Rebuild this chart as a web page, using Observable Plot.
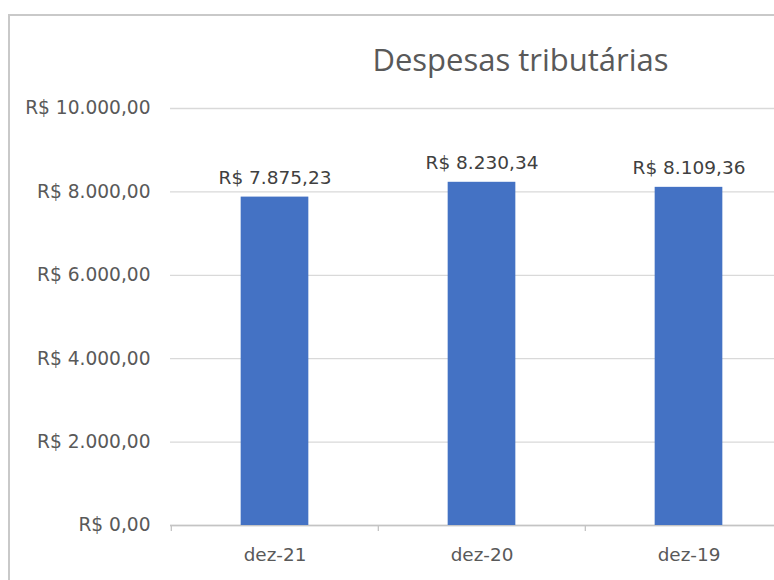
<!DOCTYPE html>
<html>
<head>
<meta charset="utf-8">
<script src="https://cdn.jsdelivr.net/npm/d3@7"></script>
<script src="https://cdn.jsdelivr.net/npm/@observablehq/plot@0.6"></script>
<style>
  html, body { margin: 0; padding: 0; background: #fff; width: 774px; height: 580px; overflow: hidden; }
  #wrap { position: relative; width: 774px; height: 580px; }
  #frame { position: absolute; left: 8px; top: 14px; width: 800px; height: 600px;
           border-left: 2px solid #c9c9c9; border-top: 2px solid #c9c9c9; box-sizing: border-box; }
  #title { position: absolute; left: 0; top: 44px; width: 1041px; text-align: center; line-height: 1;
           font-family: "Open Sans", sans-serif; font-size: 31px; color: #595959; white-space: nowrap; }
  #chart { position: absolute; left: 0; top: 0; }
</style>
</head>
<body>
<div id="wrap">
  <div id="frame"></div>
  <div id="chart"></div>
  <div id="title">Despesas tributárias</div>
</div>
<script>
const title = "Despesas tributárias";
const categories = ["dez-21", "dez-20", "dez-19"];
const values = [7875.23, 8230.34, 8109.36];
const yTicks = [0, 2000, 4000, 6000, 8000, 10000];

const data = categories.map((c, i) => ({category: c, value: values[i]}));
const brl = d3.formatLocale({decimal: ",", thousands: ".", grouping: [3], currency: ["R$ ", ""]}).format("$,.2f");

const W = 774, H = 580;
const left = 170, right = 792;
const step = (right - left) / categories.length;
const barW = 68;
const font = "DejaVu Sans, sans-serif";

document.getElementById("title").textContent = title;

const chart = Plot.plot({
  width: W,
  height: H,
  marginLeft: left,
  marginRight: 0,
  marginTop: 108,
  marginBottom: 55,
  style: {fontFamily: font, fontSize: "18px", color: "#595959", background: "transparent", overflow: "visible"},
  x: {domain: categories, range: [left, right], padding: 0},
  y: {domain: [0, 10000]},
  marks: [
    Plot.gridY(yTicks, {stroke: "#d9d9d9", strokeOpacity: 1, strokeWidth: 1.3}),
    Plot.ruleY([0], {stroke: "#c4c4c4", strokeWidth: 1.3}),
    Plot.axisY({ticks: yTicks, tickFormat: brl, tickSize: 0, tickPadding: 20, fill: "#595959", fontSize: 18.6, label: null}),
    Plot.axisX({ticks: categories, text: null, tickSize: 6, dx: -step / 2, stroke: "#c4c4c4", strokeWidth: 1.3, label: null}),
    Plot.axisX({ticks: categories, tickSize: 0, tickPadding: 22, fill: "#595959", fontSize: 18.4, label: null}),
    Plot.barY(data, {x: "category", y: "value", fill: "#4472C4",
      insetLeft: (step - barW) / 2, insetRight: (step - barW) / 2}),
    Plot.text(data, {x: "category", y: "value", text: d => brl(d.value), dy: -19,
      fill: "#404040", fontSize: 18.5})
  ]
});
document.getElementById("chart").appendChild(chart);
</script>
</body>
</html>
